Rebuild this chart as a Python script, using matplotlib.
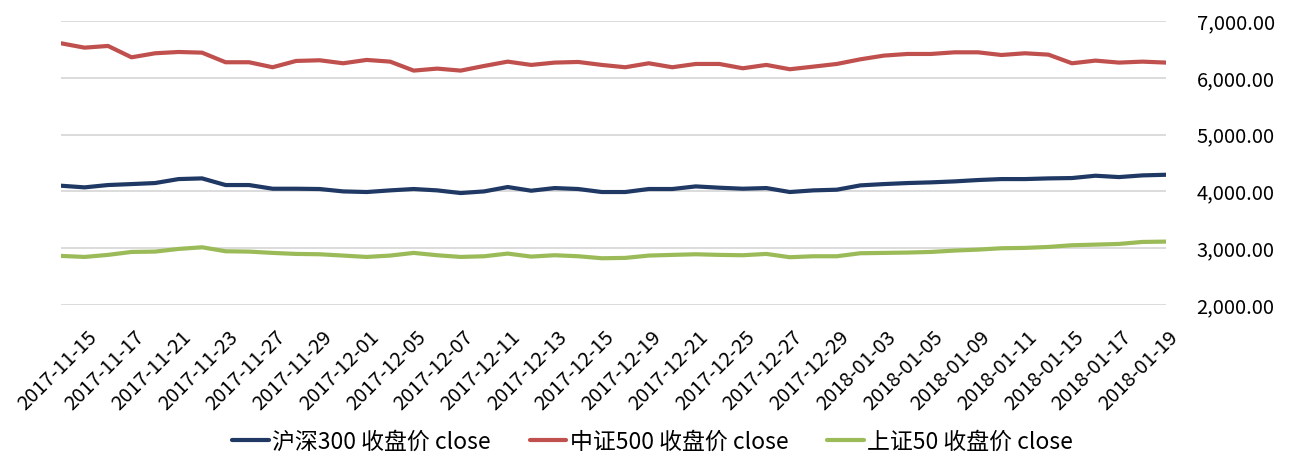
import matplotlib
matplotlib.use("Agg")
import matplotlib.pyplot as plt
import matplotlib.ticker as mticker
import matplotlib.transforms as mtransforms

plt.rcParams['font.family'] = ['Noto Sans CJK SC', 'DejaVu Sans']

dates = ['2017-11-14', '2017-11-15', '2017-11-16', '2017-11-17', '2017-11-20', '2017-11-21',
         '2017-11-22', '2017-11-23', '2017-11-24', '2017-11-27', '2017-11-28', '2017-11-29',
         '2017-11-30', '2017-12-01', '2017-12-04', '2017-12-05', '2017-12-06', '2017-12-07',
         '2017-12-08', '2017-12-11', '2017-12-12', '2017-12-13', '2017-12-14', '2017-12-15',
         '2017-12-18', '2017-12-19', '2017-12-20', '2017-12-21', '2017-12-22', '2017-12-25',
         '2017-12-26', '2017-12-27', '2017-12-28', '2017-12-29', '2018-01-02', '2018-01-03',
         '2018-01-04', '2018-01-05', '2018-01-08', '2018-01-09', '2018-01-10', '2018-01-11',
         '2018-01-12', '2018-01-15', '2018-01-16', '2018-01-17', '2018-01-18', '2018-01-19']

hs300 = [4100, 4071, 4112, 4129, 4147, 4217, 4229, 4112, 4112, 4047, 4047, 4042,
         4000, 3989, 4018, 4042, 4018, 3971, 4000, 4077, 4012, 4059, 4042, 3989,
         3989, 4042, 4042, 4088, 4065, 4047, 4059, 3989, 4018, 4030, 4106, 4129,
         4147, 4159, 4176, 4200, 4217, 4217, 4229, 4235, 4276, 4252, 4282, 4293]

zz500 = [6608, 6531, 6561, 6361, 6432, 6455, 6443, 6274, 6274, 6186, 6297, 6309,
         6256, 6315, 6285, 6127, 6162, 6127, 6209, 6285, 6227, 6268, 6279, 6227,
         6186, 6256, 6186, 6244, 6244, 6168, 6227, 6151, 6197, 6244, 6326, 6391,
         6420, 6420, 6449, 6449, 6402, 6432, 6408, 6256, 6303, 6268, 6285, 6268]

sz50 = [2864, 2846, 2882, 2934, 2940, 2987, 3016, 2946, 2940, 2917, 2899, 2893,
        2870, 2846, 2870, 2917, 2876, 2846, 2858, 2905, 2852, 2876, 2858, 2823,
        2829, 2870, 2882, 2893, 2882, 2876, 2899, 2841, 2858, 2858, 2911, 2917,
        2923, 2934, 2958, 2975, 2999, 3005, 3022, 3052, 3063, 3075, 3110, 3116]

names = ['沪深300 收盘价 close', '中证500 收盘价 close', '上证50 收盘价 close']
colors = ['#1F3864', '#C0504D', '#9BBB59']

fig = plt.figure(figsize=(12.95, 4.58), dpi=100)
ax = fig.add_axes([0.0471, 0.3341, 0.8533, 0.6200])

x = list(range(len(dates)))
for ys, name, c in zip([hs300, zz500, sz50], names, colors):
    ax.plot(x, ys, color=c, lw=3, label=name, solid_capstyle='round')

ax.set_xlim(0, len(dates) - 1)
ax.set_ylim(2000, 7000)
ax.set_yticks([2000, 3000, 4000, 5000, 6000, 7000])
ax.yaxis.set_major_formatter(mticker.FuncFormatter(lambda v, p: '{:,.2f}'.format(v)))
ax.yaxis.tick_right()
ax.grid(axis='y', color='#d9d9d9', lw=1.3)
ax.set_axisbelow(True)
for s in ax.spines.values():
    s.set_visible(False)
ax.tick_params(axis='y', length=0, pad=22, labelsize=14.5)

ax.set_xticks(x[1::2])
ax.set_xticklabels(dates[1::2], rotation=45, ha='right', va='top',
                   rotation_mode='anchor', fontsize=14.5)
ax.tick_params(axis='x', length=0, pad=16)
shift = mtransforms.ScaledTranslation(2 / 100, 0, fig.dpi_scale_trans)
for lab in ax.get_xticklabels():
    lab.set_transform(lab.get_transform() + shift)

fig.legend(loc='center', bbox_to_anchor=(0.504, 0.035), ncol=3, frameon=False,
           fontsize=16.5, handlelength=1.6, handletextpad=0.15, columnspacing=1.7)

fig.savefig('out.png', dpi=100)
